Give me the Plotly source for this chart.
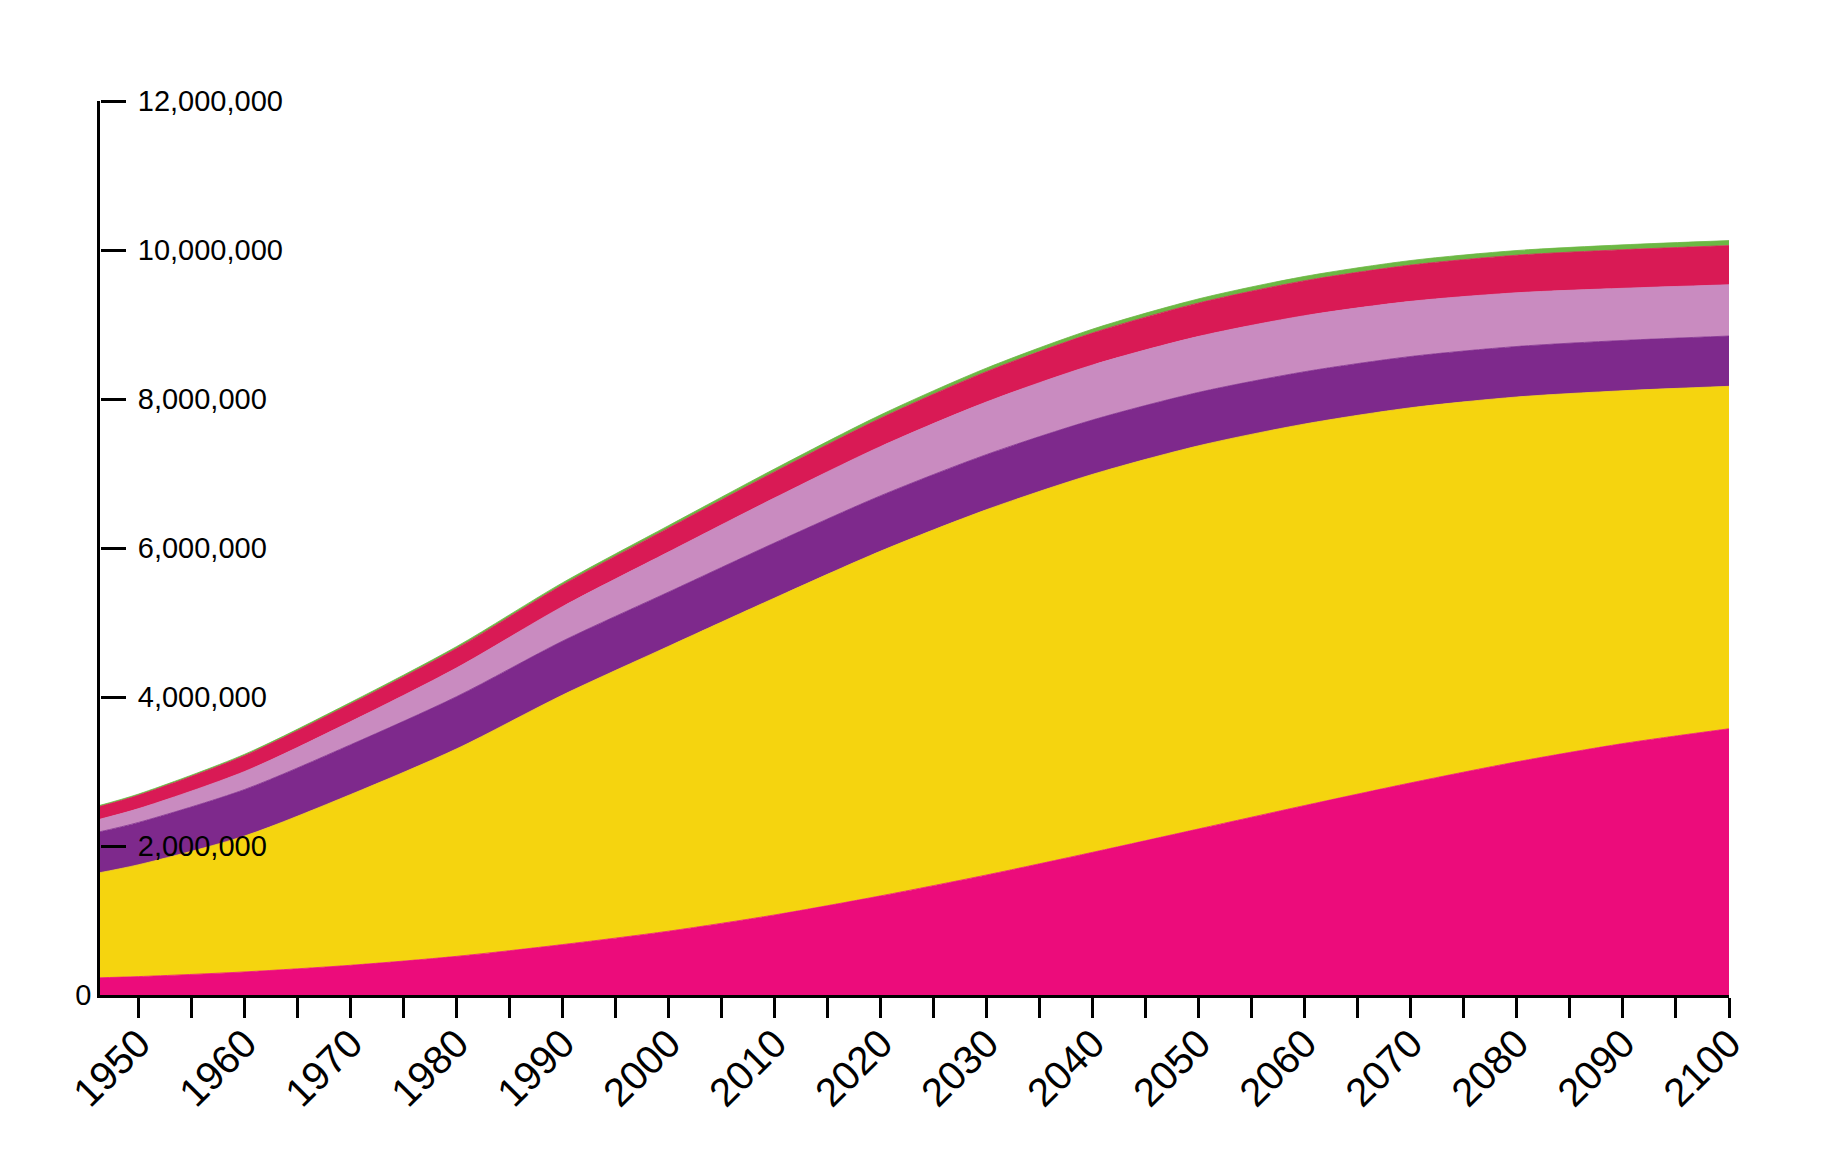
import plotly.graph_objects as go

# Years as placed on the chart's tick scale (first point = left edge of the plot)
years = [1946, 1950, 1960, 1970, 1980, 1990, 2000, 2010, 2020, 2030, 2040,
         2050, 2060, 2070, 2080, 2090, 2100]

# Population (thousands)
africa = [230000, 247000, 310000, 399000, 519000, 677000, 857000, 1075000,
          1331000, 1612000, 1916000, 2230000, 2544000, 2848000, 3130000,
          3375000, 3574000]
asia = [1403000, 1502000, 1825000, 2293000, 2786000, 3351000, 3825000,
        4255000, 4628000, 4904000, 5074000, 5143000, 5121000, 5035000,
        4897000, 4736000, 4596000]
europe = [547000, 568000, 624000, 668000, 701000, 724000, 728000, 740000,
          744000, 740000, 730000, 717000, 702000, 688000, 678000, 675000,
          675000]
latin_america = [167000, 185000, 242000, 310000, 386000, 464000, 538000,
                 604000, 661000, 706000, 738000, 751000, 752000, 740000,
                 721000, 700000, 688000]
north_america = [172000, 182000, 214000, 238000, 262000, 291000, 322000,
                 351000, 381000, 408000, 430000, 449000, 469000, 487000,
                 504000, 518000, 526000]
oceania = [13000, 14000, 17000, 21000, 24000, 28000, 32000, 38000, 43000,
           47000, 51000, 55000, 58000, 61000, 63000, 65000, 67000]

series = [
    ("Africa", africa, "#EC0C7B"),
    ("Asia", asia, "#F5D40F"),
    ("Europe", europe, "#7E298C"),
    ("Latin America", latin_america, "#C98BC0"),
    ("North America", north_america, "#D91A55"),
    ("Oceania", oceania, "#6CB844"),
]

y_tickvals = [2000000, 4000000, 6000000, 8000000, 10000000, 12000000]
y_ticktext = ["2,000,000", "4,000,000", "6,000,000", "8,000,000",
              "10,000,000", "12,000,000"]

FONT = "Liberation Sans, Arial, Helvetica, sans-serif"

fig = go.Figure()
for name, vals, color in series:
    fig.add_trace(go.Scatter(
        x=years, y=vals, name=name,
        mode="lines", stackgroup="pop",
        line=dict(color=color, width=0.8, shape="spline", smoothing=0.8),
        fillcolor=color, hoverinfo="skip",
    ))

# invisible trace so that the label axis (y2) is drawn
fig.add_trace(go.Scatter(x=[years[-1]], y=[0], yaxis="y2", mode="markers",
                         marker=dict(opacity=0), hoverinfo="skip",
                         showlegend=False))

fig.update_layout(
    template="none",
    width=1818, height=1146,
    margin=dict(l=92, r=97, t=93, b=159, autoexpand=False),
    paper_bgcolor="white", plot_bgcolor="white",
    showlegend=False,
    font=dict(family=FONT, color="black"),
    xaxis=dict(
        range=[1946.35, 2100], automargin=False,
        showgrid=False, zeroline=False,
        showline=True, linecolor="black", linewidth=3,
        ticks="outside", ticklen=20, tickwidth=2.5, tickcolor="black",
        tick0=1950, dtick=10,
        minor=dict(ticks="outside", ticklen=20, tickwidth=2.5,
                   tickcolor="black", tick0=1950, dtick=5, showgrid=False),
        tickangle=-45, ticklabelstandoff=-14,
        tickfont=dict(size=40, family=FONT, color="black"),
    ),
    yaxis=dict(
        range=[0, 12000000], automargin=False,
        showgrid=False, zeroline=False,
        showline=True, linecolor="black", linewidth=2.7,
        ticks="", tickvals=[0], ticktext=["0"],
        tickfont=dict(size=29, family=FONT, color="black"),
    ),
    yaxis2=dict(
        range=[0, 12000000], automargin=False,
        overlaying="y", side="right", anchor="free", position=0,
        showgrid=False, zeroline=False, showline=False,
        ticks="outside", ticklen=25, tickwidth=2.5, tickcolor="black",
        ticklabelstandoff=6,
        tickvals=y_tickvals, ticktext=y_ticktext,
        tickfont=dict(size=29, family=FONT, color="black"),
    ),
)

fig.write_html("out.html")
